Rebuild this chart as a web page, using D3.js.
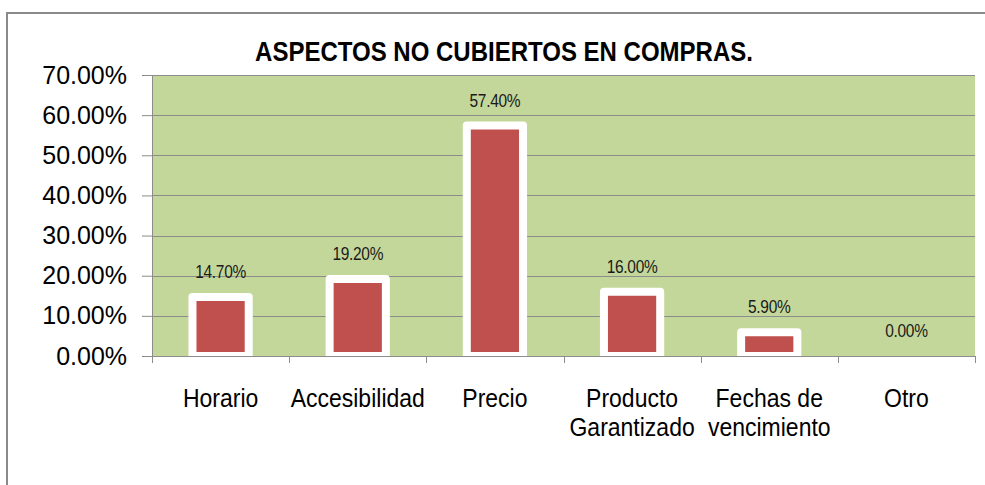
<!DOCTYPE html>
<html>
<head>
<meta charset="utf-8">
<script src="https://cdn.jsdelivr.net/npm/d3@7"></script>
<style>
  html, body { margin: 0; padding: 0; background: #ffffff; }
  svg { display: block; }
  text { font-family: "Liberation Sans", Arial, sans-serif; }
</style>
</head>
<body>
<svg id="chart" width="985" height="485"></svg>
<script>
// Chart data
const title = "ASPECTOS NO CUBIERTOS EN COMPRAS.";
const categories = ["Horario", "Accesibilidad", "Precio", "Producto Garantizado", "Fechas de vencimiento", "Otro"];
const categoryLines = [["Horario"], ["Accesibilidad"], ["Precio"], ["Producto", "Garantizado"], ["Fechas de", "vencimiento"], ["Otro"]];
const values = [14.7, 19.2, 57.4, 16.0, 5.9, 0.0];
const yTicks = [0, 10, 20, 30, 40, 50, 60, 70];

const svg = d3.select("#chart");
const plot = { left: 152, right: 975, top: 75, bottom: 356 };

const x = d3.scaleBand().domain(categories).range([plot.left, plot.right]).paddingInner(0.59).paddingOuter(0.295);
const xBand = d3.scaleBand().domain(categories).range([plot.left, plot.right]);
const y = d3.scaleLinear().domain([0, 70]).range([plot.bottom, plot.top]);

const fmt = v => v.toFixed(2) + "%";

// helper: text with a slight vertical stretch around its baseline
function stretched(sel, sy) {
  return sel.attr("transform", d => `translate(${d.x},${d.y}) scale(1,${sy})`);
}

// outer frame
svg.append("path")
  .attr("d", "M7,485 L7,13 L985,13")
  .attr("fill", "none").attr("stroke", "#8a8a8a").attr("stroke-width", 2);

// plot background
svg.append("rect")
  .attr("x", plot.left).attr("y", plot.top)
  .attr("width", plot.right - plot.left).attr("height", plot.bottom - plot.top)
  .attr("fill", "#c4d79b");

// horizontal gridlines
svg.append("g").selectAll("line").data(yTicks.filter(t => t > 0)).join("line")
  .attr("x1", plot.left).attr("x2", plot.right)
  .attr("y1", d => Math.round(y(d)) + 0.5).attr("y2", d => Math.round(y(d)) + 0.5)
  .attr("stroke", "#8c8c8c").attr("stroke-width", 1);

// bars
svg.append("g").selectAll("rect").data(values).join("rect")
  .attr("x", (d, i) => x(categories[i]))
  .attr("y", d => y(d))
  .attr("width", x.bandwidth())
  .attr("height", d => y(0) - y(d))
  .attr("fill", "#c0504d")
  .attr("stroke", d => d > 0 ? "#ffffff" : "none")
  .attr("stroke-width", 8)
  .attr("stroke-linejoin", "round");

// y axis
const yAxis = svg.append("g").attr("transform", `translate(${plot.left},0)`)
  .call(d3.axisLeft(y).tickValues(yTicks).tickSize(10).tickFormat(""));
yAxis.select(".domain").attr("stroke", "#8c8c8c");
yAxis.selectAll(".tick line").attr("stroke", "#8c8c8c");

svg.append("g").selectAll("text").data(yTicks.map(t => ({ t, x: 127, y: y(t) + 8.5 }))).join("text")
  .call(stretched, 1.06)
  .attr("text-anchor", "end")
  .attr("font-size", 25)
  .attr("fill", "#000")
  .text(d => fmt(d.t));

// x axis with ticks at category boundaries
const xAxis = svg.append("g").attr("transform", `translate(0,${plot.bottom})`);
xAxis.append("line")
  .attr("x1", plot.left).attr("x2", plot.right).attr("y1", 0.5).attr("y2", 0.5)
  .attr("stroke", "#8c8c8c");
const bounds = categories.map(c => xBand(c)).concat([plot.right]);
xAxis.selectAll("line.tick").data(bounds).join("line").attr("class", "tick")
  .attr("x1", d => Math.round(d) + 0.5).attr("x2", d => Math.round(d) + 0.5)
  .attr("y1", 0).attr("y2", 7)
  .attr("stroke", "#8c8c8c");

// category labels
const labelData = [];
categories.forEach((c, i) => {
  categoryLines[i].forEach((line, j) => {
    labelData.push({ line, x: xBand(c) + xBand.bandwidth() / 2, y: 407 + j * 29 });
  });
});
svg.append("g").selectAll("text").data(labelData).join("text")
  .call(stretched, 1.09)
  .attr("text-anchor", "middle")
  .attr("font-size", 23)
  .attr("fill", "#000")
  .text(d => d.line);

// value labels
svg.append("g").selectAll("text")
  .data(values.map((v, i) => ({ v, x: x(categories[i]) + x.bandwidth() / 2, y: y(v) - 19 })))
  .join("text")
  .call(stretched, 1.15)
  .attr("text-anchor", "middle")
  .attr("font-size", 15.5)
  .attr("letter-spacing", -0.3)
  .attr("fill", "#1a1a1a")
  .text(d => fmt(d.v));

// title
svg.append("text")
  .datum({ x: 504, y: 61 })
  .call(stretched, 1.15)
  .attr("text-anchor", "middle")
  .attr("font-size", 24)
  .attr("font-weight", "bold")
  .attr("fill", "#000")
  .text(title);
</script>
</body>
</html>
